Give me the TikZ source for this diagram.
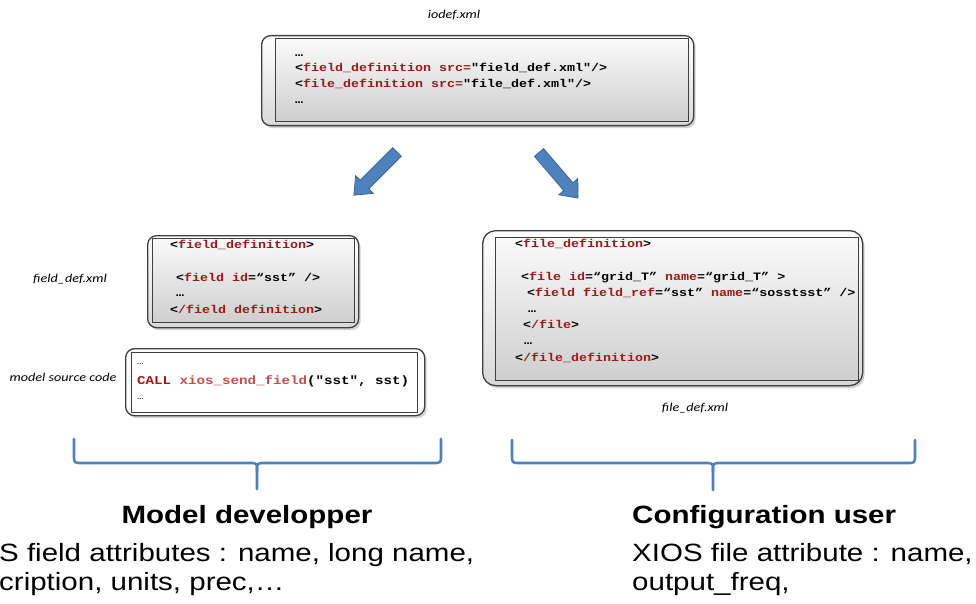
\documentclass[tikz,border=0pt]{standalone}
\usepackage{fontspec}
\usetikzlibrary{shadows}
\newfontfamily\codefont[FakeStretch=1.18]{Liberation Mono}
\newfontfamily\lblfont[FakeStretch=1.18]{Carlito}
\newfontfamily\bigfont[FakeStretch=1.18]{Liberation Sans}
\definecolor{kw}{HTML}{A01818}
\definecolor{fn}{HTML}{C0504D}
\definecolor{bl}{HTML}{4F81BD}
\definecolor{bldark}{HTML}{3C6797}
\definecolor{framec}{HTML}{3F3F3F}
\newcommand\rd[1]{\textcolor{kw}{#1}}
\tikzset{
  outerbox/.style={draw=framec, line width=1.3pt, rounded corners=9pt, anchor=north west, inner sep=0pt,
    top color=white, bottom color=gray!30,
    drop shadow={shadow xshift=2pt, shadow yshift=-2.5pt, opacity=0.35}},
  innerbox/.style={draw=framec, line width=1.3pt, anchor=north west, inner sep=0pt,
    top color=gray!4, bottom color=gray!38},
  whiteouter/.style={draw=framec, line width=1.3pt, rounded corners=9pt, anchor=north west, inner sep=0pt,
    fill=white, drop shadow={shadow xshift=2pt, shadow yshift=-2.5pt, opacity=0.35}},
  whiteinner/.style={draw=framec, line width=1.3pt, anchor=north west, inner sep=0pt, fill=white},
  code/.style={anchor=base west, inner sep=0pt, font=\codefont\bfseries\fontsize{11.3}{13}\selectfont},
  srccode/.style={anchor=base west, inner sep=0pt, font=\codefont\bfseries\fontsize{12}{14}\selectfont},
  lbl/.style={anchor=base, inner sep=0pt, font=\lblfont\itshape\fontsize{12}{14}\selectfont},
  bigtitle/.style={inner sep=0pt, font=\bigfont\bfseries\fontsize{25}{30}\selectfont},
  bigtext/.style={anchor=base west, inner sep=0pt, font=\bigfont\fontsize{25}{30}\selectfont},
  blockarrow/.style={fill=bl, draw=bldark, line width=0.8pt, line join=miter},
  bracestyle/.style={draw=bl, line width=2.6pt, line join=round, line cap=round}
}
\begin{document}
\begin{tikzpicture}[x=1pt,y=-1pt]
\useasboundingbox (0,0) rectangle (976,604);

% ---------- iodef.xml ----------
\node[lbl] (iodeflbl) at (454,19) {iodef.xml};
\node[outerbox, minimum width=432pt, minimum height=90pt] (iodefout) at (261,35) {};
\node[innerbox, minimum width=413pt, minimum height=83pt] (iodefin) at (275,38) {};
\node[code] (t1) at (295,57) {…};
\node[code] (t2) at (295,72) {<\rd{field\_definition src=}"field\_def.xml"/>};
\node[code] (t3) at (295,88) {<\rd{file\_definition src=}"file\_def.xml"/>};
\node[code] (t4) at (295,104) {…};

% ---------- block arrows ----------
\fill[blockarrow, shift={(397,152)}, rotate=225]
  (0,-6) -- (46,-6) -- (46,-12.5) -- (61,0) -- (46,12.5) -- (46,6) -- (0,6) -- cycle;
\fill[blockarrow, shift={(539,152.5)}, rotate=-49.4]
  (0,-6) -- (45,-6) -- (45,-12.5) -- (60,0) -- (45,12.5) -- (45,6) -- (0,6) -- cycle;

% ---------- field_def.xml ----------
\node[lbl] (fdlbl) at (70,282) {field\_def.xml};
\node[outerbox, minimum width=211pt, minimum height=92pt] (fdout) at (147,235) {};
\node[innerbox, minimum width=202pt, minimum height=84pt] (fdin) at (152,237.5) {};
\node[code] (f1) at (170,248) {<\rd{field\_definition}>};
\node[code] (f2) at (176,281) {<\rd{field id}=“sst” />};
\node[code] (f3) at (176,296) {…};
\node[code] (f4) at (170,313) {<\rd{/field definition}>};

% ---------- model source code ----------
\node[lbl] (msclbl) at (63,381) {model source code};
\node[whiteouter, minimum width=299pt, minimum height=67pt] (scout) at (125,348) {};
\node[whiteinner, minimum width=286pt, minimum height=60pt] (scin) at (131,352) {};
\node[srccode, font=\codefont\fontsize{9}{10}\selectfont] (s1) at (137,364) {…};
\node[srccode] (s2) at (137,384) {\textcolor{kw}{CALL} \textcolor{fn}{xios\_send\_field}("sst", sst)};
\node[srccode, font=\codefont\fontsize{9}{10}\selectfont] (s3) at (137,399) {…};

% ---------- file_def.xml ----------
\node[outerbox, rounded corners=13pt, minimum width=380pt, minimum height=155pt] (flout) at (482,230) {};
\node[innerbox, minimum width=363pt, minimum height=143pt] (flin) at (495,237) {};
\node[code] (g1) at (515,247) {<\rd{file\_definition}>};
\node[code] (g2) at (521,280) {<\rd{file id}=“grid\_T” \rd{name}=“grid\_T” >};
\node[code] (g3) at (527,296) {<\rd{field field\_ref}=“sst” \rd{name}=“sosstsst” />};
\node[code] (g4) at (528,312) {…};
\node[code] (g5) at (523,328) {<\rd{/file}>};
\node[code] (g6) at (524,344) {…};
\node[code] (g7) at (515,361) {<\rd{/file\_definition}>};
\node[lbl] (fllbl) at (695,411) {file\_def.xml};

% ---------- braces ----------
\draw[bracestyle] (74,439) -- (74,455) .. controls (74,463) .. (82,463) -- (249,463)
  .. controls (257,463) .. (257,471) -- (257,489);
\draw[bracestyle] (441,439) -- (441,455) .. controls (441,463) .. (433,463) -- (265,463)
  .. controls (257,463) .. (257,471);
\draw[bracestyle] (512,440) -- (512,455) .. controls (512,463) .. (520,463) -- (705,463)
  .. controls (713,463) .. (713,471) -- (713,490);
\draw[bracestyle] (915,440) -- (915,455) .. controls (915,463) .. (907,463) -- (721,463)
  .. controls (713,463) .. (713,471);

% ---------- bottom texts ----------
\node[bigtitle, anchor=base] (md) at (247,523) {Model developper};
\node[bigtext] (md1) at (-1,561) {S field attributes : name, long name,};
\node[bigtext] (md2) at (-1,590) {cription, units, prec,…};
\node[bigtitle, anchor=base west] (cu) at (632,523) {Configuration user};
\node[bigtext] (cu1) at (632,561) {XIOS file attribute : name,};
\node[bigtext] (cu2) at (632,590) {output\_freq,};
\end{tikzpicture}
\end{document}
